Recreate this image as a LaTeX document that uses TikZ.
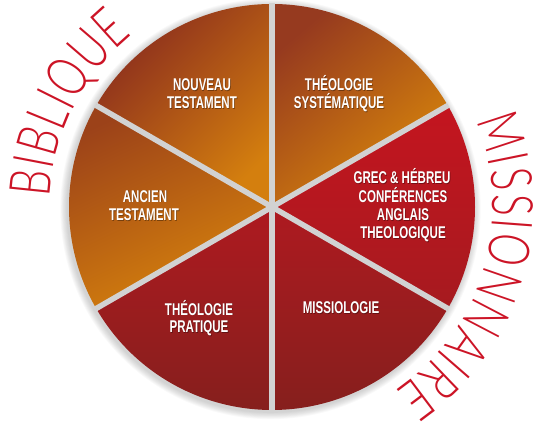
\documentclass[tikz,border=0pt]{standalone}
\usepackage{fontspec}
\usetikzlibrary{decorations.text}
\newfontfamily\lblfam[FakeStretch=0.68]{Liberation Sans}
\IfFontExistsTF{Lato Light}
  {\newfontfamily\thinfam[FakeStretch=0.72]{Lato Light}}
  {\newfontfamily\thinfam[FakeStretch=0.72]{Lato}}
\definecolor{outred}{HTML}{CC1426}
\definecolor{sepgray}{HTML}{D2D2D2}
\definecolor{ntA}{HTML}{8A2C1E}\definecolor{ntB}{HTML}{D47F0E}
\definecolor{atA}{HTML}{9C4219}\definecolor{atB}{HTML}{D8840C}
\definecolor{tsA}{HTML}{963A1F}\definecolor{tsB}{HTML}{DA880A}
\definecolor{grA}{HTML}{C4151F}\definecolor{grB}{HTML}{A61A1F}
\definecolor{rdA}{HTML}{AE1A20}\definecolor{rdB}{HTML}{861F1D}
\tikzset{
  lbl/.style={text=white, font=\lblfam\bfseries\fontsize{17}{18.5}\selectfont, inner sep=0pt, anchor=base},
  lblsh/.style={text=black, opacity=0.35, font=\lblfam\bfseries\fontsize{17}{18.5}\selectfont, inner sep=0pt, anchor=base},
  sepline/.style={draw=sepgray, line width=5.5pt},
  arctext/.style={decorate, decoration={text along path, text color=outred, text align={fit to path},
     text={|\thinfam\fontsize{57}{57}\selectfont|#1}}}
}
\begin{document}
\begin{tikzpicture}[x=1pt,y=1pt]
\useasboundingbox (0,0) rectangle (538,427);
\coordinate (C) at (272,220);
% soft shadow
\foreach \k in {1,...,8}
  \fill[black,opacity=0.022] ([shift={(-1.5,-2)}]C) circle ({203+\k*0.9});
% sectors
\shade[top color=tsA, bottom color=tsB, shading angle=40] (C) -- ([shift={(30:203)}]C) arc (30:90:203) -- cycle;
\shade[top color=ntA, bottom color=ntB, shading angle=45] (C) -- ([shift={(90:203)}]C) arc (90:150:203) -- cycle;
\shade[top color=atA, bottom color=atB, shading angle=25] (C) -- ([shift={(150:203)}]C) arc (150:210:203) -- cycle;
\shade[top color=rdA, bottom color=rdB] (C) -- ([shift={(210:203)}]C) arc (210:270:203) -- cycle;
\shade[top color=rdA, bottom color=rdB] (C) -- ([shift={(270:203)}]C) arc (270:330:203) -- cycle;
\shade[top color=grA, bottom color=grB] (C) -- ([shift={(330:203)}]C) arc (330:390:203) -- cycle;
% separators
\foreach \a in {30,90,150,210,270,330}
  \coordinate (e\a) at ([shift={(\a:203.5)}]C);
\foreach \a in {30,90,150,210,270,330}
  \draw[sepline] (C) -- (e\a);
% labels
\foreach \nm/\xx/\yy/\tx in {
  nt1/202/336.3/NOUVEAU, nt2/202/318.1/TESTAMENT,
  ts1/339/336.3/THÉOLOGIE, ts2/339/318/SYSTÉMATIQUE,
  at1/145/224.7/ANCIEN, at2/144/206.5/TESTAMENT,
  gr1/402/243/GREC \& HÉBREU, gr2/403/224.8/CONFÉRENCES, gr3/403/206.5/ANGLAIS, gr4/403/188.3/THEOLOGIQUE,
  mi1/341/113.3/MISSIOLOGIE,
  tp1/199/111.7/THÉOLOGIE, tp2/199/94.3/PRATIQUE}
{
  \node[lblsh] (\nm s) at (\xx+0.7,\yy-0.7) {\tx};
  \node[lbl] (\nm) at (\xx,\yy) {\tx};
}
% outer curved words
\path[arctext=BIBLIQUE] ([shift={(177.5:222)}]C) arc (177.5:129:222);
\path[arctext=MISSIONNAIRE] ([shift={(23:221)}]C) arc (23:-56:221);
\end{tikzpicture}
\end{document}
